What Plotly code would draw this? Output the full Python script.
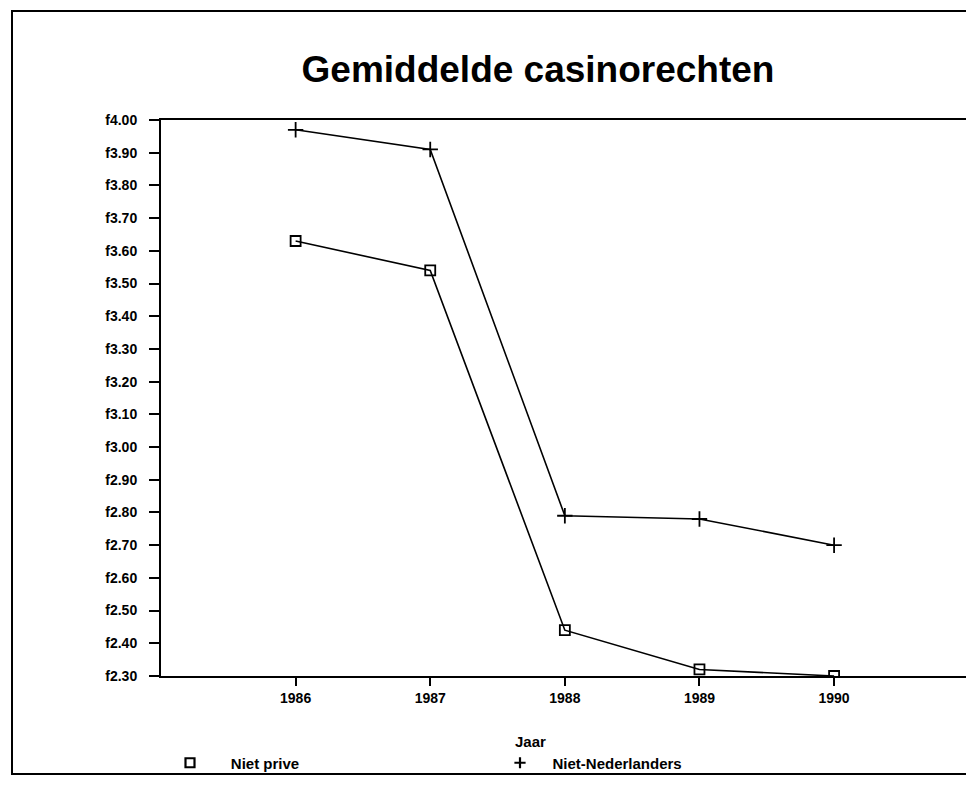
import plotly.graph_objects as go

years = [1986, 1987, 1988, 1989, 1990]
niet_prive = [3.63, 3.54, 2.44, 2.32, 2.30]
niet_nederlanders = [3.97, 3.91, 2.79, 2.78, 2.70]

title_text = "Gemiddelde casinorechten"
x_title = "Jaar"
name_prive = "Niet prive"
name_ned = "Niet-Nederlanders"

font_main = "Liberation Sans, Arial, sans-serif"

fig = go.Figure()

fig.add_trace(go.Scatter(
    x=years, y=niet_prive, mode="lines+markers", showlegend=False,
    line=dict(color="black", width=1.6),
    marker=dict(symbol="square-open", size=10, color="black", line=dict(width=1.8, color="black")),
))
fig.add_trace(go.Scatter(
    x=years, y=niet_nederlanders, mode="lines+markers", showlegend=False,
    line=dict(color="black", width=1.6),
    marker=dict(symbol="cross-thin", size=11, color="black", line=dict(width=1.8, color="black")),
))
# legend entries (markers only, as in the original)
fig.add_trace(go.Scatter(
    x=[None], y=[None], mode="markers", name="     " + name_prive,
    marker=dict(symbol="square-open", size=9, color="black", line=dict(width=2.2, color="black")),
))
fig.add_trace(go.Scatter(
    x=[None], y=[None], mode="markers", name="   " + name_ned,
    marker=dict(symbol="cross-thin", size=8, color="black", line=dict(width=2.2, color="black")),
))

fig.update_layout(
    width=966, height=786,
    paper_bgcolor="white", plot_bgcolor="white",
    margin=dict(l=161, r=0, t=120, b=110),
    font=dict(family=font_main, color="black", size=15),
    title=dict(text="<b>" + title_text + "</b>", x=538 / 966, xanchor="center",
               y=1 - 69 / 786, yanchor="middle",
               font=dict(size=37, family=font_main, color="black")),
    xaxis=dict(
        range=[1985, 1990.98], tickmode="array", tickvals=years,
        ticktext=[str(y) for y in years],
        showline=True, linecolor="black", linewidth=1.6, mirror=True,
        ticks="outside", ticklen=8, tickwidth=1.5, tickcolor="black",
        showgrid=False, zeroline=False,
        tickfont=dict(size=14, family=font_main, weight="bold"),
    ),
    yaxis=dict(
        range=[2.30, 4.00], dtick=0.1, tick0=2.3, tickformat=".2f", tickprefix="f",
        showline=True, linecolor="black", linewidth=2, mirror=False,
        ticks="outside", ticklen=10, tickwidth=1.5, tickcolor="black",
        ticklabelstandoff=9,
        showgrid=False, zeroline=False,
        tickfont=dict(size=14, family=font_main, weight="bold"),
    ),
    legend=dict(
        orientation="h", x=(170 - 161) / 805, xanchor="left",
        y=-(763 - 676) / 556, yanchor="middle",
        entrywidth=285, entrywidthmode="pixels",
        font=dict(size=15, family=font_main, weight="bold"),
        bgcolor="rgba(0,0,0,0)",
    ),
    annotations=[
        dict(text="<b>" + x_title + "</b>", xref="paper", yref="paper",
             x=(530 - 161) / 805, y=-(741 - 676) / 556, xanchor="center", yanchor="middle",
             showarrow=False, font=dict(size=15, family=font_main, color="black")),
    ],
    shapes=[
        dict(type="rect", xref="paper", yref="paper",
             x0=(12 - 161) / 805, x1=(990 - 161) / 805,
             y0=-(774 - 676) / 556, y1=1 + (120 - 11) / 556,
             line=dict(color="black", width=2), fillcolor="rgba(0,0,0,0)", layer="below"),
    ],
)

fig.write_html("out.html", config={"displayModeBar": False},
               post_script="document.body.style.margin='0';")
